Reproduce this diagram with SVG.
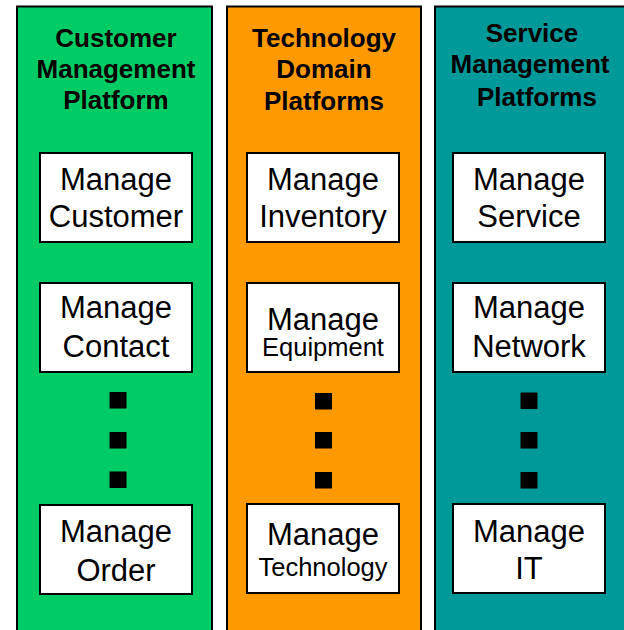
<svg xmlns="http://www.w3.org/2000/svg" width="624" height="630" viewBox="0 0 624 630">
<style>
.panel{stroke:#000;stroke-width:2}
.box{fill:#fff;stroke:#000;stroke-width:2}
.title{font-family:"Liberation Sans",Arial,sans-serif;font-weight:bold;font-size:26px;fill:#000;text-anchor:middle}
.lbl{font-family:"Liberation Sans",Arial,sans-serif;font-size:31px;fill:#000;text-anchor:middle}
.sm{font-size:25.5px}
.dot{fill:#000}
</style>
<rect width="624" height="630" fill="#fff"/>
<g id="customer-platform">
<rect class="panel" x="17" y="6.5" width="195" height="640" fill="#00CC66"/>
<text class="title" x="116" y="47">Customer</text>
<text class="title" x="116" y="78">Management</text>
<text class="title" x="116" y="109">Platform</text>
</g>
<g id="technology-platforms">
<rect class="panel" x="227" y="6.5" width="194" height="640" fill="#FF9900"/>
<text class="title" x="324" y="47">Technology</text>
<text class="title" x="324" y="78">Domain</text>
<text class="title" x="324" y="110">Platforms</text>
</g>
<g id="service-platforms">
<rect class="panel" x="435" y="6.5" width="200" height="640" fill="#009999"/>
<text class="title" x="532" y="42">Service</text>
<text class="title" x="530" y="73">Management</text>
<text class="title" x="537" y="106">Platforms</text>
</g>
<g id="manage-customer">
<rect class="box" x="40" y="153" width="152" height="89"/>
<text class="lbl" x="116" y="190">Manage</text>
<text class="lbl" x="116" y="227">Customer</text>
</g>
<g id="manage-contact">
<rect class="box" x="40" y="283" width="152" height="89"/>
<text class="lbl" x="116" y="318">Manage</text>
<text class="lbl" x="116" y="357">Contact</text>
</g>
<g id="manage-order">
<rect class="box" x="40" y="505" width="152" height="89"/>
<text class="lbl" x="116" y="542">Manage</text>
<text class="lbl" x="116" y="581">Order</text>
</g>
<g id="manage-inventory">
<rect class="box" x="247" y="153" width="152" height="89"/>
<text class="lbl" x="323" y="190">Manage</text>
<text class="lbl" x="323" y="227">Inventory</text>
</g>
<g id="manage-equipment">
<rect class="box" x="247" y="283" width="152" height="89"/>
<text class="lbl" x="323" y="330">Manage</text>
<text class="lbl sm" x="323" y="356">Equipment</text>
</g>
<g id="manage-technology">
<rect class="box" x="247" y="504" width="152" height="89"/>
<text class="lbl" x="323" y="545">Manage</text>
<text class="lbl sm" x="323" y="576">Technology</text>
</g>
<g id="manage-service">
<rect class="box" x="453" y="153" width="152" height="89"/>
<text class="lbl" x="529" y="190">Manage</text>
<text class="lbl" x="529" y="227">Service</text>
</g>
<g id="manage-network">
<rect class="box" x="453" y="283" width="152" height="89"/>
<text class="lbl" x="529" y="318">Manage</text>
<text class="lbl" x="529" y="357">Network</text>
</g>
<g id="manage-it">
<rect class="box" x="453" y="504" width="152" height="89"/>
<text class="lbl" x="529" y="542">Manage</text>
<text class="lbl" x="529" y="579">IT</text>
</g>
<g id="ellipsis">
<rect class="dot" x="109.5" y="392" width="17" height="16.5"/>
<rect class="dot" x="109.5" y="432" width="17" height="16.5"/>
<rect class="dot" x="109.5" y="471.5" width="17" height="16.5"/>
<rect class="dot" x="315" y="393" width="17" height="16.5"/>
<rect class="dot" x="315" y="432" width="17" height="16.5"/>
<rect class="dot" x="315" y="472" width="17" height="16.5"/>
<rect class="dot" x="520.5" y="392.5" width="17" height="16.5"/>
<rect class="dot" x="520.5" y="432" width="17" height="16.5"/>
<rect class="dot" x="520.5" y="472" width="17" height="16.5"/>
</g>
<g id="connectors"></g>
</svg>
